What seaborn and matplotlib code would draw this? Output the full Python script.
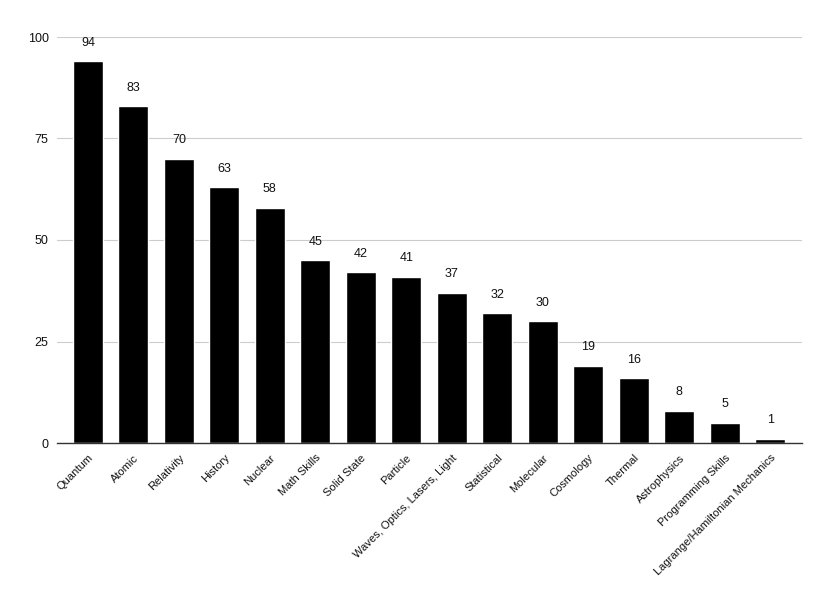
import matplotlib
matplotlib.use("Agg")
import matplotlib.pyplot as plt
import seaborn as sns
import pandas as pd

# ========================
# Data
# ========================
topics = ["Quantum", "Atomic", "Relativity", "History", "Nuclear", "Math Skills",
          "Solid State", "Particle", "Waves, Optics, Lasers, Light", "Statistical",
          "Molecular", "Cosmology", "Thermal", "Astrophysics", "Programming Skills",
          "Lagrange/Hamiltonian Mechanics"]
counts = [94, 83, 70, 63, 58, 45, 42, 41, 37, 32, 30, 19, 16, 8, 5, 1]
y_ticks = [0, 25, 50, 75, 100]

df = pd.DataFrame({"Topic": topics, "Count": counts})

# ========================
# Plot
# ========================
sns.set_style("white")
plt.rcParams["font.family"] = ["Liberation Sans", "DejaVu Sans"]

fig = plt.figure(figsize=(8.31, 5.99), dpi=100)
ax = fig.add_axes([57 / 831, 1 - 443 / 599, (802 - 57) / 831, (443 - 37) / 599])

sns.barplot(data=df, x="Topic", y="Count", color="black", width=0.66,
            saturation=1, ax=ax, zorder=3)

for i, v in enumerate(counts):
    ax.annotate(str(v), (i, v), xytext=(0, 9), textcoords="offset points",
                ha="center", va="bottom", fontsize=9, color="#111111")

ax.set_ylim(0, 100)
ax.set_xlim(-0.68, len(topics) - 1 + 0.7)
ax.set_yticks(y_ticks)
ax.yaxis.grid(True, color="#cccccc", linewidth=0.8, zorder=0)
ax.set_axisbelow(True)
for s in ["top", "right", "left"]:
    ax.spines[s].set_visible(False)
ax.spines["bottom"].set_color("#333333")
ax.spines["bottom"].set_linewidth(1.0)
ax.spines["bottom"].set_zorder(4)
ax.tick_params(axis="y", length=0, pad=6, labelsize=9, labelcolor="#111111")
ax.tick_params(axis="x", length=0, pad=7, labelsize=8, labelcolor="#111111")
plt.setp(ax.get_xticklabels(), rotation=45, ha="right", rotation_mode="anchor")
ax.set_xlabel("")
ax.set_ylabel("")

fig.savefig("out.png", dpi=100)
